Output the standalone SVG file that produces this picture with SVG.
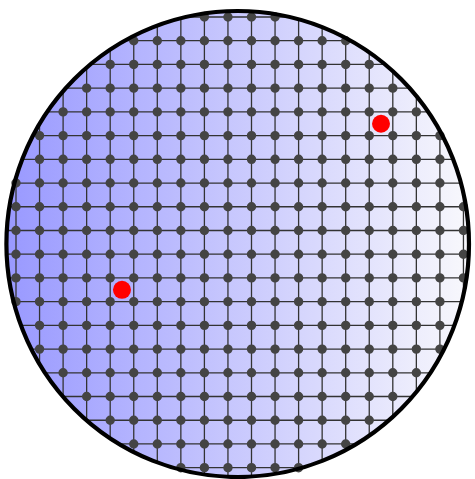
<svg xmlns="http://www.w3.org/2000/svg" width="475" height="479" viewBox="0 0 475 479">
<style>
.grid{fill:none;stroke:#333;stroke-width:1.3}
.dots line{stroke:#444;stroke-width:9.4;stroke-linecap:round;stroke-dasharray:0 23.55}
.red{fill:#ff0000}
</style>
<defs>
<linearGradient id="bg" x1="0" y1="0" x2="1" y2="0">
<stop offset="0" stop-color="#9999ff"/>
<stop offset="1" stop-color="#f8f8fc"/>
</linearGradient>
<clipPath id="clip"><ellipse cx="237.7" cy="244" rx="231.3" ry="233"/></clipPath>
</defs>
<g id="disc">
<ellipse cx="237.7" cy="244" rx="231.3" ry="233" fill="url(#bg)"/>
</g>
<g id="connectors" clip-path="url(#clip)">
<path class="grid" d="M16 0V479M39.55 0V479M63.1 0V479M86.65 0V479M110.2 0V479M133.75 0V479M157.3 0V479M180.85 0V479M204.4 0V479M227.95 0V479M251.5 0V479M275.05 0V479M298.6 0V479M322.15 0V479M345.7 0V479M369.25 0V479M392.8 0V479M416.35 0V479M439.9 0V479M463.45 0V479"/>
<path class="grid" d="M0 17H475M0 40.72H475M0 64.44H475M0 88.16H475M0 111.88H475M0 135.6H475M0 159.32H475M0 183.04H475M0 206.76H475M0 230.48H475M0 254.2H475M0 277.92H475M0 301.64H475M0 325.36H475M0 349.08H475M0 372.8H475M0 396.52H475M0 420.24H475M0 443.96H475M0 467.68H475"/>
</g>
<g id="nodes" class="dots">
<line x1="204.4" y1="17" x2="275.1" y2="17"/>
<line x1="133.75" y1="40.72" x2="345.75" y2="40.72"/>
<line x1="110.2" y1="64.44" x2="369.3" y2="64.44"/>
<line x1="86.65" y1="88.16" x2="392.85" y2="88.16"/>
<line x1="63.1" y1="111.88" x2="416.4" y2="111.88"/>
<line x1="39.55" y1="135.6" x2="439.95" y2="135.6"/>
<line x1="39.55" y1="159.32" x2="439.95" y2="159.32"/>
<line x1="16" y1="183.04" x2="439.95" y2="183.04"/>
<line x1="16" y1="206.76" x2="463.5" y2="206.76"/>
<line x1="16" y1="230.48" x2="463.5" y2="230.48"/>
<line x1="16" y1="254.2" x2="463.5" y2="254.2"/>
<line x1="16" y1="277.92" x2="463.5" y2="277.92"/>
<line x1="16" y1="301.64" x2="439.95" y2="301.64"/>
<line x1="39.55" y1="325.36" x2="439.95" y2="325.36"/>
<line x1="39.55" y1="349.08" x2="439.95" y2="349.08"/>
<line x1="63.1" y1="372.8" x2="416.4" y2="372.8"/>
<line x1="86.65" y1="396.52" x2="392.85" y2="396.52"/>
<line x1="110.2" y1="420.24" x2="369.3" y2="420.24"/>
<line x1="133.75" y1="443.96" x2="345.75" y2="443.96"/>
<line x1="180.85" y1="467.68" x2="298.65" y2="467.68"/>
</g>
<g id="marker-a"><circle class="red" cx="381.0" cy="123.74" r="9"/></g>
<g id="marker-b"><circle class="red" cx="121.98" cy="289.78" r="9"/></g>
<g id="outline">
<ellipse cx="237.7" cy="244" rx="231.3" ry="233" fill="none" stroke="#000" stroke-width="4.2"/>
</g>
</svg>
